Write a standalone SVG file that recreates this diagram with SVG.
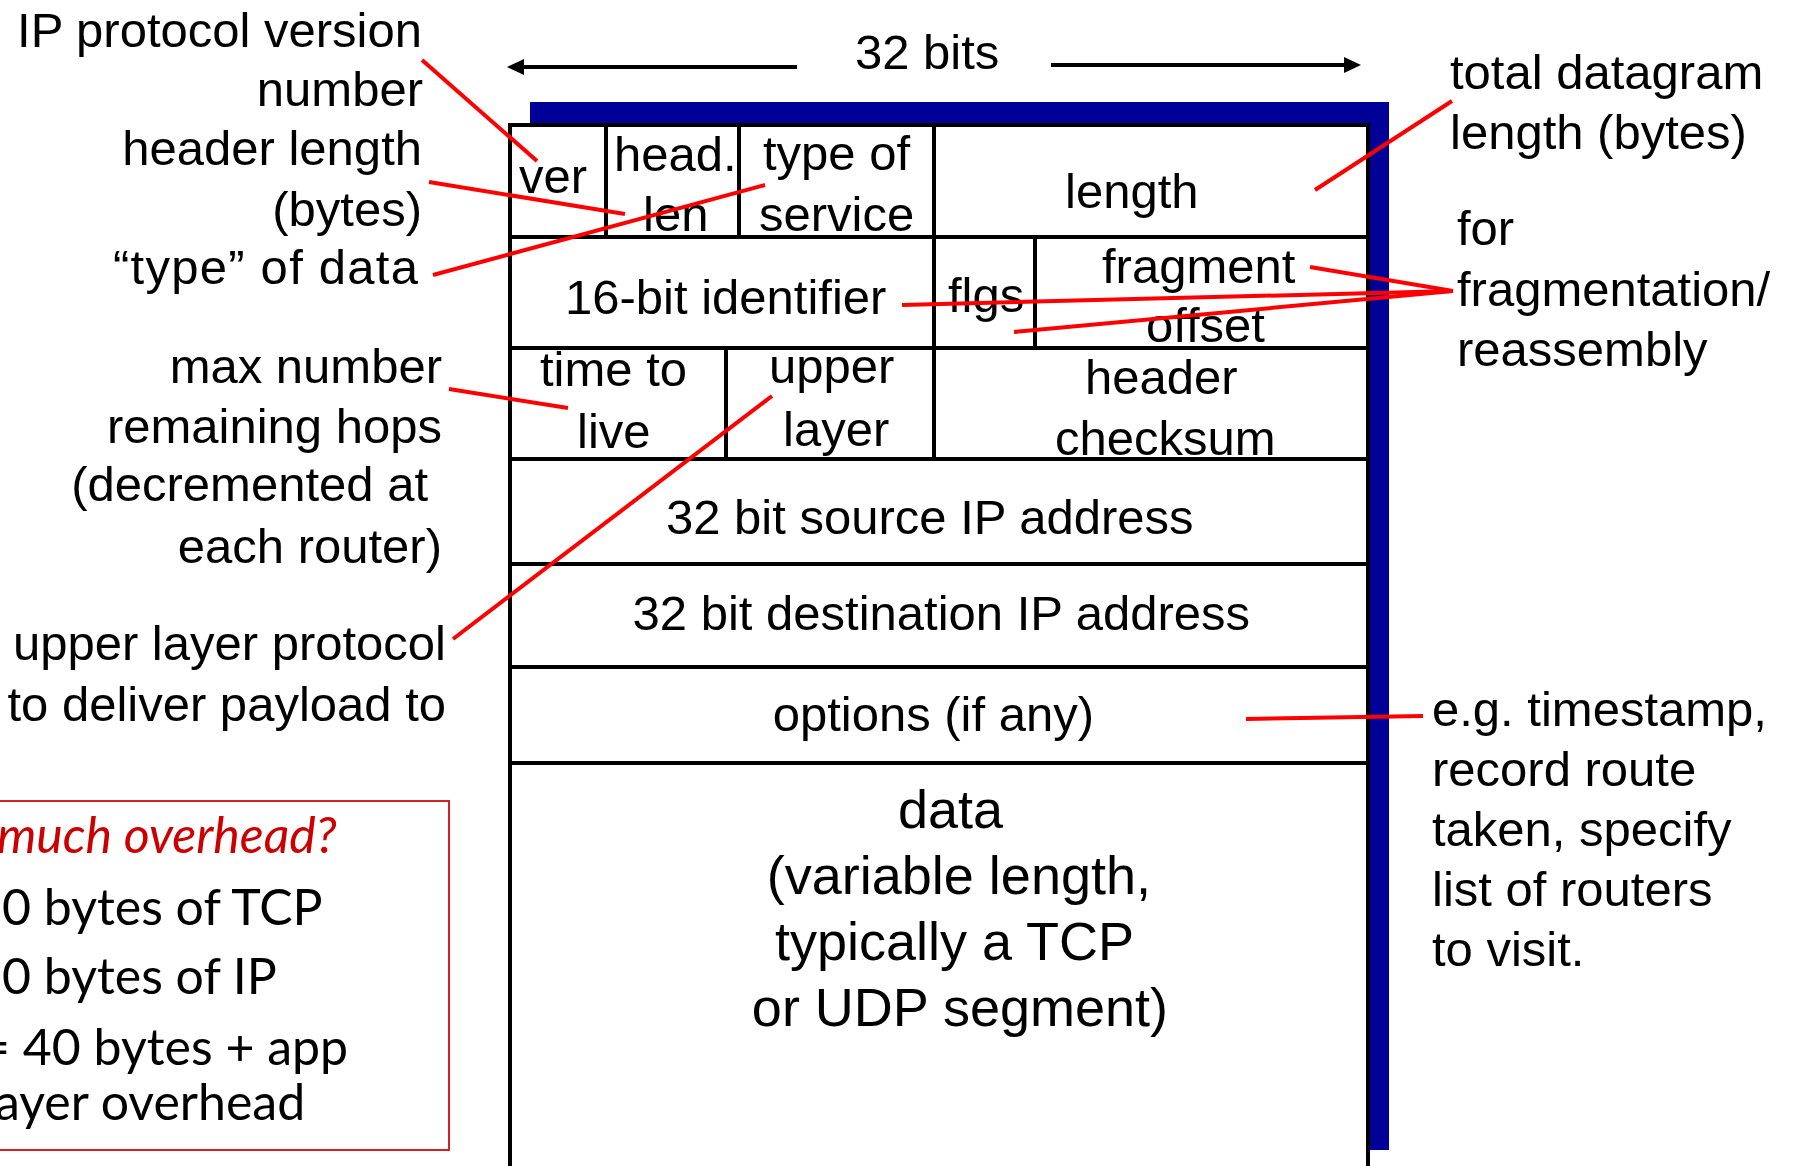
<svg xmlns="http://www.w3.org/2000/svg" width="1793" height="1166" viewBox="0 0 1793 1166">
<style>
  .t{font-family:"Liberation Sans",Arial,sans-serif;font-size:49px;fill:#000}
  .d{font-family:"Liberation Sans",Arial,sans-serif;font-size:54px;fill:#000}
  .e{text-anchor:end}
  .m{text-anchor:middle}
  .g{font-family:Lato,"Open Sans",sans-serif;font-size:50px;fill:#000}
  .gr{font-family:Lato,"Open Sans",sans-serif;font-size:50px;font-style:italic;fill:#cc0000}
  .b{stroke:#000;stroke-width:4;fill:none}
  .r{stroke:#ff0000;stroke-width:4;fill:none}
  .a{stroke:#000;stroke-width:4;fill:none}
</style>
<defs>
  <marker id="arr" viewBox="0 0 17 16" refX="7" refY="8" markerWidth="17" markerHeight="16" markerUnits="userSpaceOnUse" orient="auto">
    <path d="M0,0 L17,8 L0,16 z" fill="#000"/>
  </marker>
</defs>
<rect width="1793" height="1166" fill="#fff"/>

<g id="frame">
  <rect x="530" y="102" width="859" height="23" fill="#000099"/>
  <rect x="1367" y="102" width="22" height="1048" fill="#000099"/>
  <path class="b" d="M510,1166 V125 H1368 V1166"/>
  <path class="b" d="M510,237 H1368 M510,348 H1368 M510,459 H1368 M510,564 H1368 M510,667 H1368 M510,763 H1368"/>
</g>

<g id="row1">
  <path class="b" d="M606,127 V237 M739,127 V237 M934,127 V237"/>
  <text class="t" x="519" y="193">ver</text>
  <text class="t" x="614" y="171">head.</text>
  <text class="t" x="643" y="231">len</text>
  <text class="t" x="763" y="170">type of</text>
  <text class="t" x="759" y="231">service</text>
  <text class="t" x="1065" y="208">length</text>
</g>
<g id="row2">
  <path class="b" d="M934,237 V348 M1035,237 V348"/>
  <text class="t" x="565" y="314">16-bit identifier</text>
  <text class="t" x="948" y="312">flgs</text>
  <text class="t" x="1102" y="283">fragment</text>
  <text class="t" x="1146" y="342">offset</text>
</g>
<g id="row3">
  <path class="b" d="M726,348 V459 M934,348 V459"/>
  <text class="t" x="540" y="386">time to</text>
  <text class="t" x="577" y="448">live</text>
  <text class="t" x="769" y="383">upper</text>
  <text class="t" x="783" y="446">layer</text>
  <text class="t" x="1085" y="394">header</text>
  <text class="t" x="1055" y="455">checksum</text>
</g>
<g id="row4"><text class="t" x="666" y="534">32 bit source IP address</text></g>
<g id="row5"><text class="t e" x="1250" y="630">32 bit destination IP address</text></g>
<g id="row6"><text class="t e" x="1094" y="731">options (if any)</text></g>
<g id="data">
  <text class="d e" x="1003" y="828">data</text>
  <text class="d e" x="1151" y="894">(variable length,</text>
  <text class="d e" x="1134" y="960">typically a TCP</text>
  <text class="d e" x="1168" y="1026">or UDP segment)</text>
</g>

<g id="width-label">
  <text class="t" x="855" y="69">32 bits</text>
</g>

<g id="label-version">
  <text class="t e" x="422" y="47">IP protocol version</text>
  <text class="t e" x="423" y="106">number</text>
</g>
<g id="label-hlen">
  <text class="t e" x="422" y="165">header length</text>
  <text class="t e" x="422" y="226">(bytes)</text>
</g>
<g id="label-tos">
  <text class="t e" x="418" y="284" textLength="305" lengthAdjust="spacing">“type” of data</text>
</g>
<g id="label-ttl">
  <text class="t e" x="442" y="383">max number</text>
  <text class="t e" x="442" y="443">remaining hops</text>
  <text class="t e" x="428" y="501">(decremented at</text>
  <text class="t e" x="442" y="563">each router)</text>
</g>
<g id="label-proto">
  <text class="t e" x="446" y="660">upper layer protocol</text>
  <text class="t e" x="446" y="721">to deliver payload to</text>
</g>
<g id="label-total">
  <text class="t" x="1450" y="89">total datagram</text>
  <text class="t" x="1450" y="149">length (bytes)</text>
</g>
<g id="label-frag">
  <text class="t" x="1457" y="245">for</text>
  <text class="t" x="1457" y="306">fragmentation/</text>
  <text class="t" x="1457" y="366">reassembly</text>
</g>
<g id="label-options">
  <text class="t" x="1432" y="726">e.g. timestamp,</text>
  <text class="t" x="1432" y="786">record route</text>
  <text class="t" x="1432" y="846">taken, specify</text>
  <text class="t" x="1432" y="906">list of routers</text>
  <text class="t" x="1432" y="966">to visit.</text>
</g>

<g id="overhead-box">
  <rect x="-5" y="801" width="454" height="349" fill="none" stroke="#d42020" stroke-width="2"/>
  <text class="gr" x="-3" y="853">much overhead?</text>
  <text class="g" x="2" y="925">0 bytes of TCP</text>
  <text class="g" x="2" y="994">0 bytes of IP</text>
  <text class="g" x="-19" y="1065">= 40 bytes + app</text>
  <text class="g" x="-5" y="1120">ayer overhead</text>
</g>

<g id="connectors">
  <line class="a" x1="797" y1="67" x2="517" y2="67" marker-end="url(#arr)"/>
  <line class="a" x1="1051" y1="65" x2="1351" y2="65" marker-end="url(#arr)"/>
  <line class="r" x1="422" y1="60" x2="537" y2="161"/>
  <line class="r" x1="429" y1="182" x2="625" y2="214"/>
  <line class="r" x1="433" y1="275" x2="765" y2="185"/>
  <line class="r" x1="449" y1="389" x2="568" y2="408"/>
  <line class="r" x1="772" y1="396" x2="453" y2="639"/>
  <line class="r" x1="1452" y1="101" x2="1315" y2="190"/>
  <line class="r" x1="1310" y1="267" x2="1453" y2="291"/>
  <line class="r" x1="902" y1="305" x2="1453" y2="291"/>
  <line class="r" x1="1014" y1="332" x2="1453" y2="291"/>
  <line class="r" x1="1246" y1="719" x2="1423" y2="716"/>
</g>
</svg>
